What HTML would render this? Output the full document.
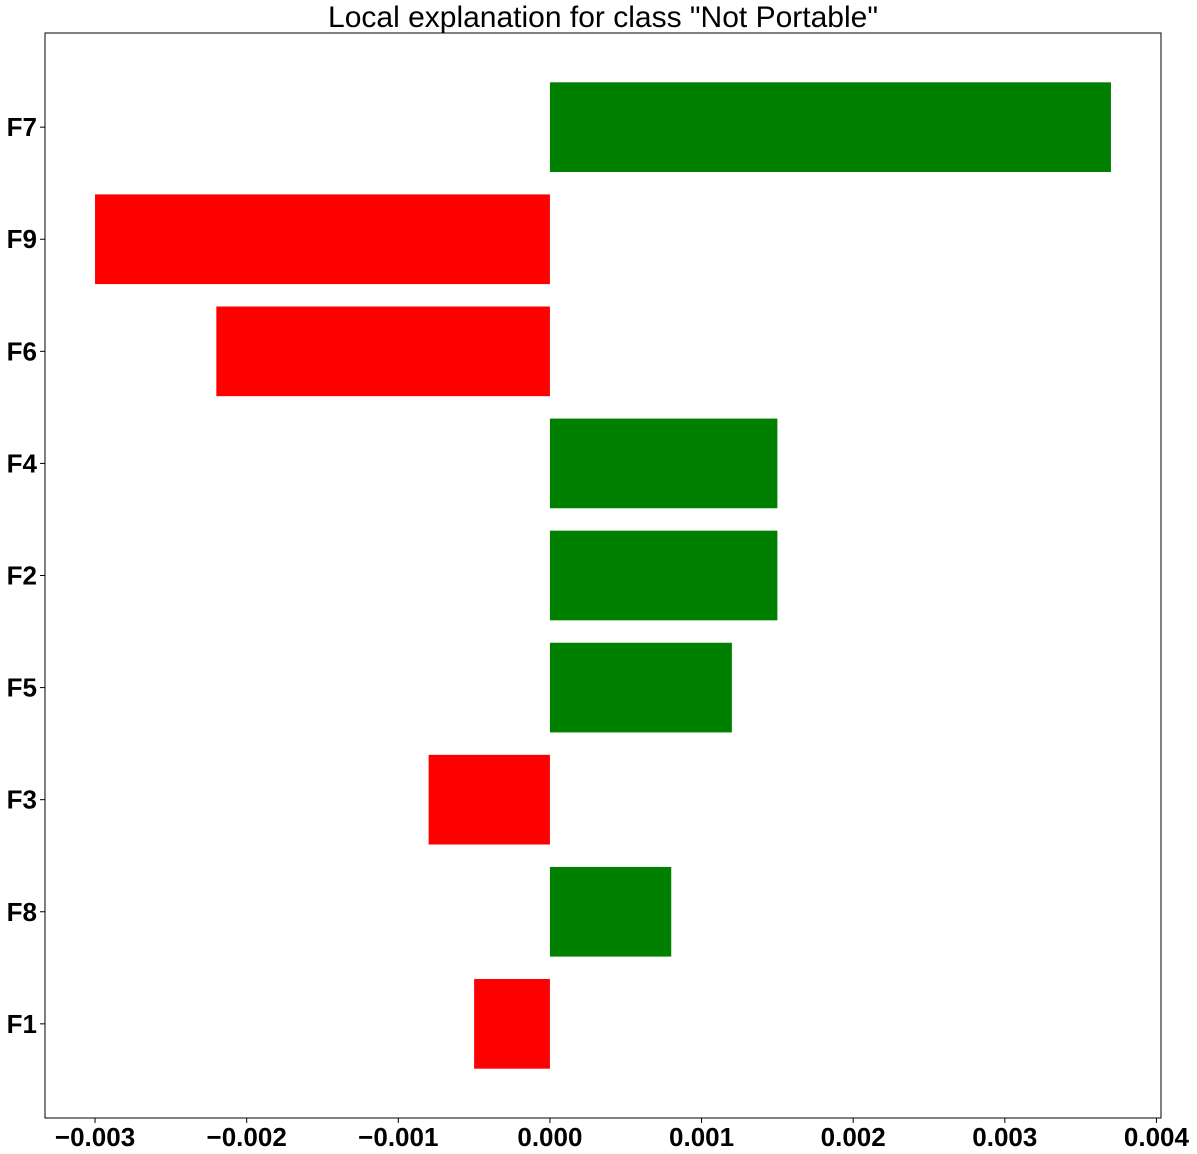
<!DOCTYPE html>
<html><head><meta charset="utf-8"><style>
body{margin:0;background:#fff;}
svg{display:block;font-family:"Liberation Sans",sans-serif;}
</style></head><body>
<svg id="chart" width="1197" height="1154">
<text x="603" y="27" font-size="30" text-anchor="middle">Local explanation for class "Not Portable"</text>
<g id="bars"></g>
<g id="axes"></g>
<rect x="45" y="33" width="1116" height="1085" fill="none" stroke="#000" stroke-width="1"/>
</svg>
<script>
const categories = ["F1","F8","F3","F5","F2","F4","F6","F9","F7"];
const values = [-0.0005,0.0008,-0.0008,0.0012,0.0015,0.0015,-0.0022,-0.003,0.0037];
const xTicks = [-0.003,-0.002,-0.001,0,0.001,0.002,0.003,0.004];
const xTickLabels = ["\u22120.003","\u22120.002","\u22120.001","0.000","0.001","0.002","0.003","0.004"];

const L=45,R=1161,T=33,B=1118;
const xMin=-0.00333,xMax=0.00403;
const n=categories.length, yMin=-0.84, yMax=n-1+0.84;
function x(v){return L+(v-xMin)/(xMax-xMin)*(R-L);}
function y(i){return B-(i-yMin)/(yMax-yMin)*(B-T);}
const NS="http://www.w3.org/2000/svg";
const bars=document.getElementById('bars'), axes=document.getElementById('axes');
const unit=(B-T)/(yMax-yMin);
values.forEach((v,i)=>{
  const r=document.createElementNS(NS,'rect');
  const x0=x(Math.min(0,v)), x1=x(Math.max(0,v));
  r.setAttribute('x',x0);r.setAttribute('width',x1-x0);
  r.setAttribute('y',y(i)-0.4*unit);r.setAttribute('height',0.8*unit);
  r.setAttribute('fill',v>=0?'#008000':'#ff0000');
  
  
  bars.appendChild(r);
  const t=document.createElementNS(NS,'line');
  t.setAttribute('x1',L);t.setAttribute('x2',L-5);t.setAttribute('y1',y(i));t.setAttribute('y2',y(i));t.setAttribute('stroke','#000');
  
  
  axes.appendChild(t);
  const lb=document.createElementNS(NS,'text');
  lb.setAttribute('x',L-8);lb.setAttribute('y',y(i)+9);lb.setAttribute('text-anchor','end');
  lb.setAttribute('font-size','26');lb.setAttribute('font-weight','bold');
  lb.textContent=categories[i];
  
  
  axes.appendChild(lb);
});
xTicks.forEach((v,k)=>{
  const t=document.createElementNS(NS,'line');
  t.setAttribute('x1',x(v));t.setAttribute('x2',x(v));t.setAttribute('y1',B);t.setAttribute('y2',B+5);t.setAttribute('stroke','#000');
  
  
  axes.appendChild(t);
  const lb=document.createElementNS(NS,'text');
  lb.setAttribute('x',x(v));lb.setAttribute('y',B+28);lb.setAttribute('text-anchor','middle');
  lb.setAttribute('font-size','26');lb.setAttribute('font-weight','bold');
  lb.textContent=xTickLabels[k];
  
  
  axes.appendChild(lb);
});
</script>
</body></html>
